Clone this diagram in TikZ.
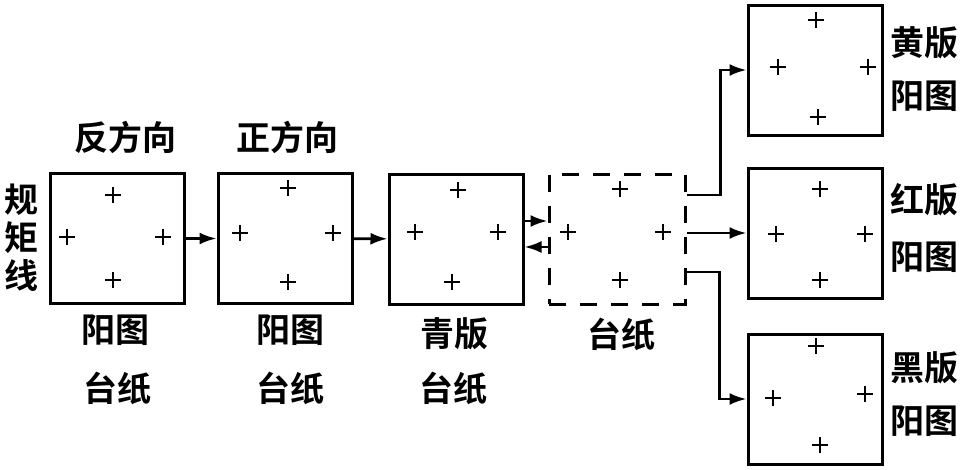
\documentclass[tikz,border=0pt]{standalone}
\usepackage{fontspec}
\newfontfamily\cjk{Noto Sans CJK SC}[BoldFont=* Bold]
\usetikzlibrary{arrows.meta,calc}
\begin{document}
\begin{tikzpicture}[x=1pt,y=-1pt,
  box/.style={draw,line width=3pt,minimum width=134pt,minimum height=130pt,inner sep=0pt},
  dbox/.style={draw,line width=3pt,dash pattern=on 17pt off 14pt,minimum width=136pt,minimum height=130pt,inner sep=0pt},
  arr/.style={line width=2.6pt,-{Latex[length=17pt,width=12pt]}},
  lbl/.style={font=\cjk\bfseries\fontsize{34pt}{36pt}\selectfont,inner sep=0pt},
  pl/.style={line width=2.4pt}]
\useasboundingbox (0,0) rectangle (969,469);
\newcommand\pmk[2]{\draw[pl] (#1-8,#2)--(#1+8,#2) (#1,#2-8)--(#1,#2+8);}
% boxes
\node[box] (b1) at (117.5,238.5) {};
\node[box] (b2) at (285,238.5) {};
\node[box] (b3) at (456,239) {};
\node[dbox] (b4) at (617,239) {};
\node[box] (by) at (815,70) {};
\node[box] (br) at (815,233) {};
\node[box] (bk) at (815,399) {};
% plus marks
\pmk{113}{195}\pmk{67}{237}\pmk{163}{237}\pmk{113}{280}
\pmk{288}{188}\pmk{240}{233}\pmk{333}{233}\pmk{288}{282}
\pmk{458}{190}\pmk{415}{232}\pmk{498}{232}\pmk{452}{282}
\pmk{620}{189}\pmk{568}{232}\pmk{663}{232}\pmk{620}{280}
\pmk{816}{20}\pmk{778}{67}\pmk{868}{67}\pmk{818}{117}
\pmk{820}{189}\pmk{776}{234}\pmk{865}{234}\pmk{820}{280}
\pmk{816}{346}\pmk{773}{398}\pmk{865}{394}\pmk{820}{445}
% connectors
\draw[arr] (b1) -- (b2);
\draw[arr] (b2) -- (b3);
\draw[arr] ($(b3.east)+(0,-18)$) -- ($(b4.west)+(0,-18)$);
\draw[arr] ($(b4.west)+(0,8)$) -- ($(b3.east)+(0,8)$);
\draw[arr] ($(b4.east)+(0,-44)$) -- ++(34,0) |- (by.west);
\draw[arr] (b4.east |- br.west) -- (br.west);
\draw[arr] ($(b4.east)+(0,33)$) -- ++(33,0) |- (bk.west);
% labels
\node[lbl] (t1) at (125,137) {反方向};
\node[lbl] (t2) at (287,137) {正方向};
\node[lbl,align=center,font=\cjk\bfseries\fontsize{34pt}{38pt}\selectfont] (t0) at (22,238) {规\\矩\\线};
\node[lbl] (l1a) at (115,330) {阳图};
\node[lbl] (l1b) at (117,388) {台纸};
\node[lbl] (l2a) at (290,330) {阳图};
\node[lbl] (l2b) at (290,388) {台纸};
\node[lbl] (l3a) at (454,334) {青版};
\node[lbl] (l3b) at (453,388) {台纸};
\node[lbl] (l4a) at (621,334) {台纸};
\node[lbl] (ya) at (924,43) {黄版};
\node[lbl] (yb) at (924,96) {阳图};
\node[lbl] (ra) at (924,200) {红版};
\node[lbl] (rb) at (924,257) {阳图};
\node[lbl] (ka) at (924,368) {黑版};
\node[lbl] (kb) at (924,421) {阳图};
\end{tikzpicture}
\end{document}
